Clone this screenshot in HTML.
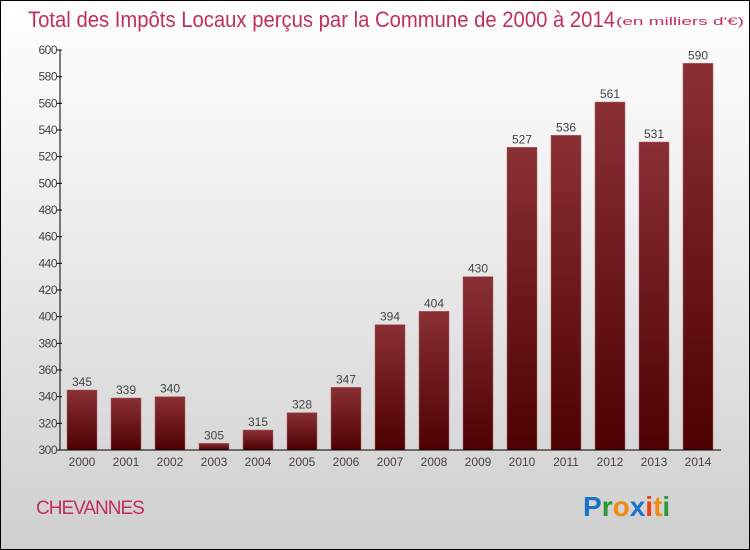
<!DOCTYPE html>
<html><head><meta charset="utf-8"><style>
html,body{margin:0;padding:0}
body{width:750px;height:550px;overflow:hidden;font-family:"Liberation Sans","DejaVu Sans",sans-serif}
#wrap{position:absolute;left:0;top:0;width:748px;height:548px;border:1px solid #000;background:linear-gradient(#ffffff,#f2f2f2 30%,#cfcfcf)}
</style></head><body>
<div id="wrap">
<svg id="chart" width="750" height="550" style="position:absolute;left:-1px;top:-1px">
<defs>
<linearGradient id="bg" x1="0" x2="0" y1="0" y2="1"><stop offset="0" stop-color="#8a3034"/><stop offset="1" stop-color="#4e0000"/></linearGradient>
</defs>
<text x="28" y="27" font-size="22" fill="#c0305a" textLength="587" lengthAdjust="spacingAndGlyphs">Total des Impôts Locaux perçus par la Commune de 2000 à 2014</text>
<text x="616" y="25" font-size="11" fill="#c0305a" textLength="128" lengthAdjust="spacingAndGlyphs">(en milliers d'€)</text>
<text x="36" y="514" font-size="19" fill="#c0305a" letter-spacing="-1">CHEVANNES</text>
<g font-size="28" font-weight="bold">
<text x="583" y="516"><tspan fill="#1a73c9">P</tspan><tspan fill="#2a9a3a">r</tspan><tspan fill="#f08a10">o</tspan><tspan fill="#1a73c9">x</tspan><tspan fill="#f04010">i</tspan><tspan fill="#f08a10">t</tspan><tspan fill="#2a9a3a">i</tspan></text>
</g>
<g id="bars"></g>
<g id="axes"></g>
</svg>
</div>
<script>
const years=["2000","2001","2002","2003","2004","2005","2006","2007","2008","2009","2010","2011","2012","2013","2014"];
const values=[345,339,340,305,315,328,347,394,404,430,527,536,561,531,590];
const yTicks=[300,320,340,360,380,400,420,440,460,480,500,520,540,560,580,600];
const NS="http://www.w3.org/2000/svg";
const x0=60,band=44,bw=30,yMin=300,yMax=600,yTop=50,yBot=450;
const y=v=>yBot-(v-yMin)/(yMax-yMin)*(yBot-yTop);
const xs=i=>x0+i*band+7;
function mk(t,a,p){const e=document.createElementNS(NS,t);for(const k in a)e.setAttribute(k,a[k]);p.appendChild(e);return e;}
const bars=document.getElementById('bars'),axes=document.getElementById('axes');
values.forEach((v,i)=>{
 const r=mk('rect',{x:xs(i),y:y(v),width:bw,height:yBot-y(v),fill:'url(#bg)',stroke:'#b06060','stroke-width':0.5},bars);
 
 
 const t=mk('text',{x:xs(i)+bw/2,y:y(v)-4,'text-anchor':'middle','font-size':12,fill:'#444'},bars);
 t.textContent=v;
 
 
 const xl=mk('text',{x:xs(i)+bw/2,y:466,'text-anchor':'middle','font-size':12,fill:'#444'},axes);
 xl.textContent=years[i];
 
 
});
const ya=mk('line',{x1:x0,x2:x0,y1:yTop,y2:yBot,stroke:'#000'},axes);


const xa=mk('line',{x1:x0,x2:721,y1:yBot,y2:yBot,stroke:'#000'},axes);


yTicks.forEach(v=>{
 mk('line',{x1:x0-3,x2:x0+2,y1:y(v),y2:y(v),stroke:'#000'},axes);
 const t=mk('text',{x:x0-3,y:y(v)+4,'text-anchor':'end','font-size':12,fill:'#444','letter-spacing':'-0.5'},axes);
 t.textContent=v;
 
 
});
</script>
</body></html>
